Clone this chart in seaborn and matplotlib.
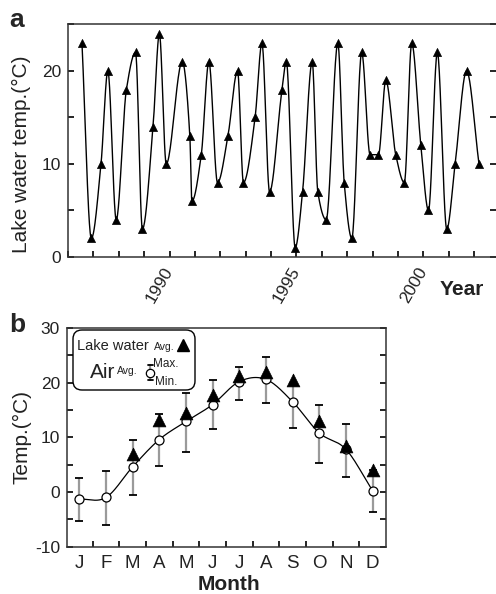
import numpy as np
import pandas as pd
import seaborn as sns
import matplotlib
matplotlib.use('Agg')
from matplotlib import pyplot as plt
from matplotlib.patches import FancyBboxPatch
from matplotlib.lines import Line2D
from matplotlib.transforms import IdentityTransform
from matplotlib.ticker import MultipleLocator, FixedLocator

# panel a: lake water temperature samples
lake_year = [1986.55, 1986.92, 1987.30, 1987.57, 1987.90, 1988.30, 1988.66, 1988.93, 1989.35, 1989.60,
             1989.87, 1990.50, 1990.80, 1990.88, 1991.25, 1991.55, 1991.89, 1992.30, 1992.68, 1992.91,
             1993.37, 1993.64, 1993.94, 1994.43, 1994.60, 1994.95, 1995.24, 1995.62, 1995.84, 1996.17,
             1996.63, 1996.88, 1997.18, 1997.57, 1997.90, 1998.23, 1998.52, 1998.91, 1999.25, 1999.54,
             1999.90, 2000.20, 2000.55, 2000.92, 2001.25, 2001.70, 2002.19]
lake_temp = [23, 2, 10, 20, 4, 18, 22, 3, 14, 24,
             10, 21, 13, 6, 11, 21, 8, 13, 20, 8,
             15, 23, 7, 18, 21, 1, 7, 21, 7, 4,
             23, 8, 2, 22, 11, 11, 19, 11, 8, 23,
             12, 5, 22, 3, 10, 20, 10]
year_labels = [1990, 1995, 2000]

# panel b: monthly climatology
months = ['J', 'F', 'M', 'A', 'M', 'J', 'J', 'A', 'S', 'O', 'N', 'D']
air_avg = [-1.3, -1.0, 4.6, 9.6, 12.9, 16.0, 20.2, 20.6, 16.5, 10.8, 7.8, 0.2]
air_max = [2.6, 3.8, 9.5, 14.2, 18.1, 20.4, 22.9, 24.7, 20.0, 16.0, 12.5, 4.0]
air_min = [-5.3, -6.0, -0.5, 4.8, 7.4, 11.5, 16.9, 16.3, 11.8, 5.3, 2.7, -3.7]
lake_avg = [np.nan, np.nan, 7.0, 13.1, 14.5, 17.8, 21.3, 21.9, 20.5, 13.0, 8.4, 4.1]

W, H = 496, 594


def hermite(x, y, m, n=24):
    # draws the smoothed line style of the original between the data points
    xs, ys = [], []
    for k in range(len(x) - 1):
        h = x[k + 1] - x[k]
        t = np.linspace(0, 1, n, endpoint=False)
        h00 = 2 * t**3 - 3 * t**2 + 1
        h10 = t**3 - 2 * t**2 + t
        h01 = -2 * t**3 + 3 * t**2
        h11 = t**3 - t**2
        xs.append(x[k] + t * h)
        ys.append(h00 * y[k] + h10 * h * m[k] + h01 * y[k + 1] + h11 * h * m[k + 1])
    xs.append([x[-1]])
    ys.append([y[-1]])
    return np.concatenate(xs), np.concatenate(ys)


def smooth_monotone(x, y):
    x, y = np.asarray(x, float), np.asarray(y, float)
    h = np.diff(x)
    d = np.diff(y) / h
    m = np.zeros_like(y)
    m[0], m[-1] = d[0], d[-1]
    for k in range(1, len(x) - 1):
        if d[k - 1] * d[k] > 0:
            w1 = 2 * h[k] + h[k - 1]
            w2 = h[k] + 2 * h[k - 1]
            m[k] = (w1 + w2) / (w1 / d[k - 1] + w2 / d[k])
    return hermite(x, y, m)


def smooth_cardinal(x, y):
    x, y = np.asarray(x, float), np.asarray(y, float)
    d = np.diff(y) / np.diff(x)
    m = np.zeros_like(y)
    m[0], m[-1] = d[0], d[-1]
    m[1:-1] = (y[2:] - y[:-2]) / (x[2:] - x[:-2])
    return hermite(x, y, m)


sns.set_style('ticks')
plt.rcParams['font.family'] = ['Liberation Sans', 'DejaVu Sans']
plt.rcParams['axes.linewidth'] = 1.1
plt.rcParams['axes.edgecolor'] = '#333333'
plt.rcParams['axes.unicode_minus'] = False

fig = plt.figure(figsize=(W / 100, H / 100), dpi=100)


def px(x, y):
    return x / W, 1 - y / H


""" panel a """
ax = fig.add_axes([68 / W, 1 - 257 / H, 1 - 68 / W, (257 - 24) / H])
sx, sy = smooth_monotone(lake_year, lake_temp)
sns.lineplot(x=sx, y=sy, ax=ax, color='k', lw=1.0, sort=False, estimator=None)
sns.scatterplot(x=lake_year, y=lake_temp, ax=ax, marker='^', s=34, color='k', edgecolor='k',
                linewidth=0.5, zorder=3)
ax.set_xlim(1986.0, 2002.86)
ax.set_ylim(0, 25.05)
ax.spines['right'].set_visible(False)
ax.xaxis.set_major_locator(FixedLocator(year_labels))
ax.xaxis.set_minor_locator(MultipleLocator(1))
ax.set_xticklabels([str(v) for v in year_labels], rotation=60, ha='right', va='center',
                   rotation_mode='anchor')
ax.yaxis.set_major_locator(MultipleLocator(10))
ax.yaxis.set_minor_locator(MultipleLocator(5))
ax.tick_params(which='both', direction='in', length=4.5, width=1.2, color='k', labelsize=12.5,
               labelcolor='#222222', right=True, pad=5)
ax.tick_params(axis='x', which='both', pad=8)
ax.set_xlabel('')
ax.set_ylabel('')
fig.text(*px(21, 154), 'Lake water temp.(°C)', rotation=90, ha='center', va='center', fontsize=15,
         color='#222222')
fig.text(*px(462, 289), 'Year', ha='center', va='center', fontsize=15, fontweight='bold', color='#222222')
fig.text(*px(17, 20), 'a', ha='center', va='center', fontsize=19, fontweight='bold')

""" panel b """
bx = fig.add_axes([67 / W, 1 - 546.7 / H, (386 - 67) / W, (546.7 - 328) / H])
mnum = np.arange(1, 13)
eb = bx.errorbar(mnum, air_avg,
                 yerr=[np.array(air_avg) - np.array(air_min), np.array(air_max) - np.array(air_avg)],
                 fmt='none', ecolor='#9a9a9a', elinewidth=1.6, capsize=3, capthick=1.3, zorder=1)
for cap in eb[1]:
    cap.set_color('k')
    cap.set_markeredgecolor('k')
bsx, bsy = smooth_cardinal(mnum, air_avg)
sns.lineplot(x=bsx, y=bsy, ax=bx, color='k', lw=0.9, sort=False, estimator=None, zorder=2)
sns.scatterplot(x=mnum, y=air_avg, ax=bx, marker='o', s=42, color='white', edgecolor='k',
                linewidth=0.9, zorder=3)
lake_df = pd.DataFrame({'m': mnum, 't': lake_avg}).dropna()
sns.scatterplot(data=lake_df, x='m', y='t', ax=bx, marker='^', s=85, color='k', edgecolor='k',
                linewidth=0.5, zorder=4)
bx.set_xlim(0.54, 12.5)
bx.set_ylim(-10, 30)
bx.set_xticks(mnum)
bx.set_xticklabels(months)
bx.xaxis.set_minor_locator(FixedLocator(np.arange(1.5, 12, 1)))
bx.yaxis.set_major_locator(MultipleLocator(10))
bx.yaxis.set_minor_locator(MultipleLocator(5))
bx.tick_params(which='both', direction='in', length=4.5, width=1.2, color='k', labelsize=12.5,
               labelcolor='#222222', right=True, pad=5)
bx.tick_params(axis='x', which='major', length=0, labelsize=13.5, pad=6)
bx.set_xlabel('')
bx.set_ylabel('')
fig.text(*px(22, 437), 'Temp.(°C)', rotation=90, ha='center', va='center', fontsize=15, color='#222222')
fig.text(*px(229, 585), 'Month', ha='center', va='center', fontsize=15, fontweight='bold', color='#222222')
fig.text(*px(17, 325), 'b', ha='center', va='center', fontsize=19, fontweight='bold')

# hand-drawn legend box
ident = IdentityTransform()
box = FancyBboxPatch((73, H - 390), 122, 60, boxstyle='round,pad=0,rounding_size=9',
                     transform=ident, fc='white', ec='k', lw=1.0, zorder=10)
fig.add_artist(box)


def ptext(x, y, s, size, **kw):
    t = fig.text(x, H - y, s, transform=ident, fontsize=size, va='center', ha='left', zorder=11,
                 color='#222222', **kw)
    return t


ptext(77, 346, 'Lake water', 10.5)
ptext(154, 347, 'Avg.', 7.5)
fig.add_artist(Line2D([183], [H - 345], transform=ident, marker='^', ms=9, color='k', zorder=11))
ptext(90, 373, 'Air', 15)
ptext(117, 371, 'Avg.', 7.5)
fig.add_artist(Line2D([150, 150], [H - 365, H - 380], transform=ident, color='#9a9a9a', lw=1.6, zorder=11))
fig.add_artist(Line2D([147.5, 152.5], [H - 365, H - 365], transform=ident, color='k', lw=1.3, zorder=11))
fig.add_artist(Line2D([147.5, 152.5], [H - 380, H - 380], transform=ident, color='k', lw=1.3, zorder=11))
fig.add_artist(Line2D([150], [H - 372.5], transform=ident, marker='o', ms=6, mfc='white', mec='k',
                      mew=0.9, zorder=12))
ptext(153, 364, 'Max.', 8.5)
ptext(155, 382, 'Min.', 8.5)

fig.savefig('out.png', dpi=100)
